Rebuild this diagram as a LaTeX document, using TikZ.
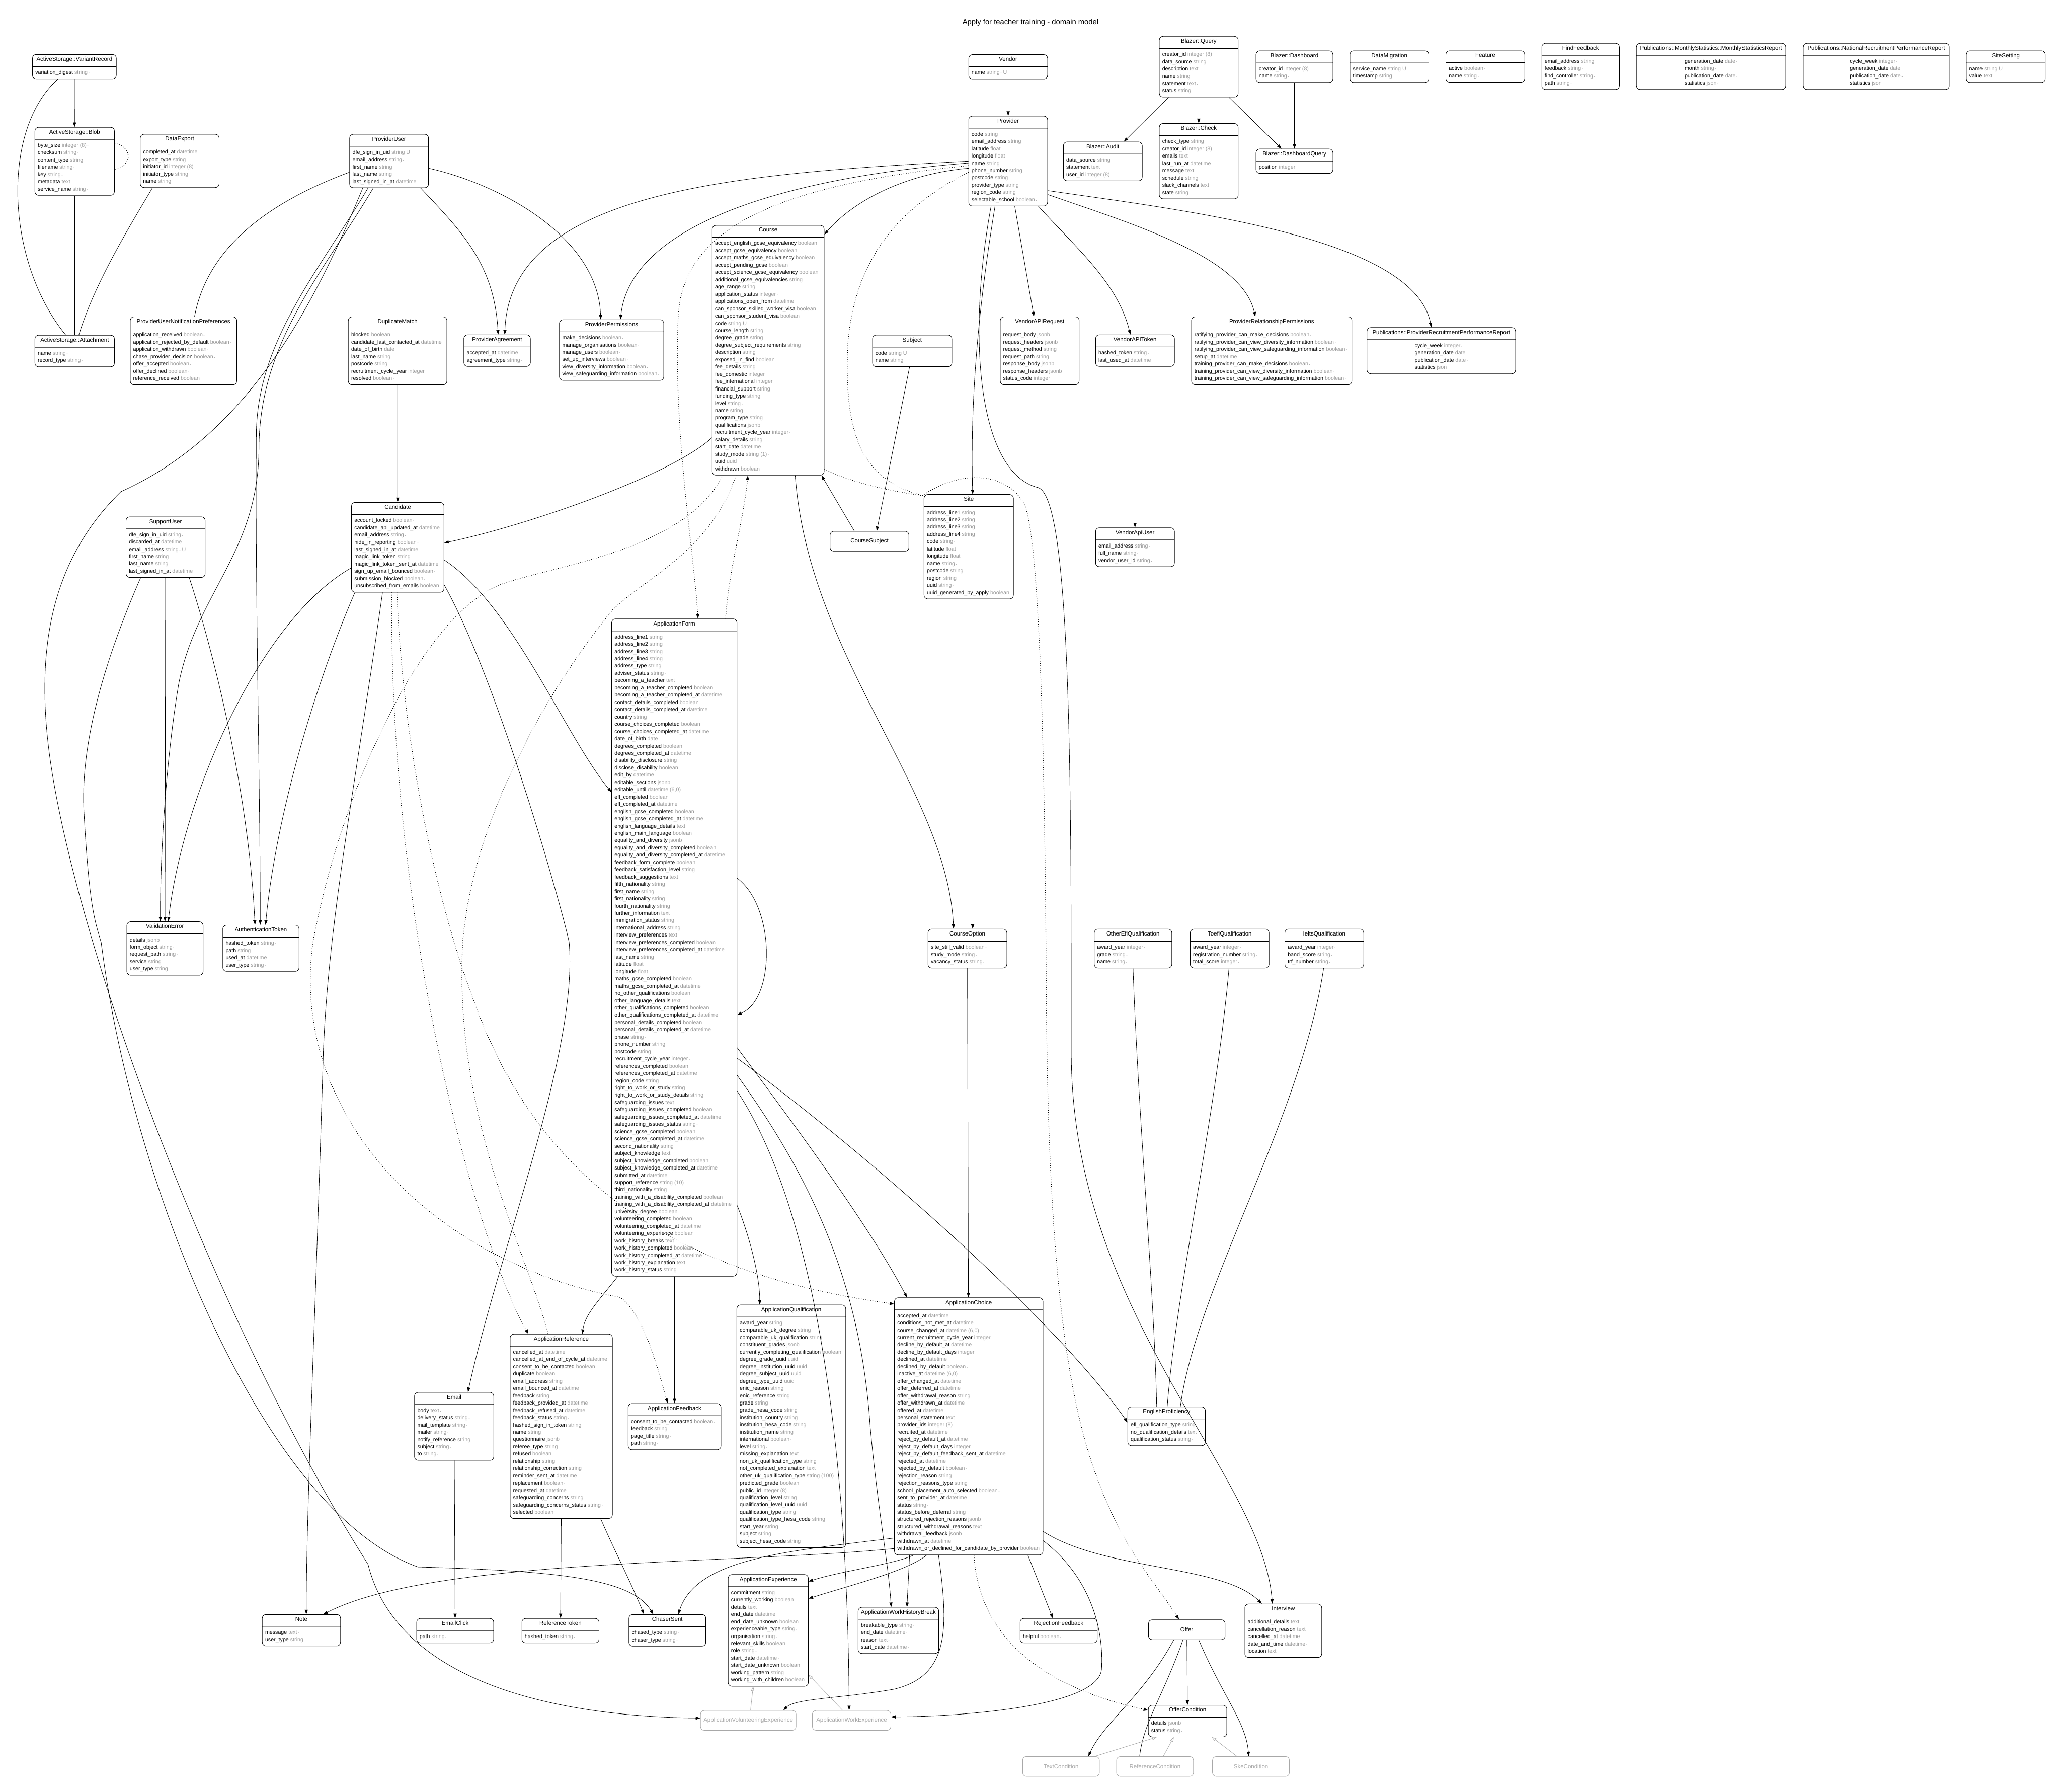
\documentclass[tikz,border=0pt]{standalone}
\usepackage{fontspec}
\setmainfont{Liberation Sans}
\usetikzlibrary{shapes.multipart,arrows.meta}
\definecolor{ErType}{HTML}{9B9B9B}
\definecolor{ErGhost}{HTML}{A8A8A8}
\renewcommand\arraystretch{0.5}
\newcommand\fld[2]{\rule[-5pt]{0pt}{17.6pt}#1 \textcolor{ErType}{#2}}
\newcommand\flds[1]{\begin{tabular}{@{}l@{}}#1\end{tabular}}
\newcommand\nn{\,{\fontsize{7}{7}\selectfont •}}
\newcommand\hd[1]{\rule[-7pt]{0pt}{16pt}{\fontsize{14}{16}\selectfont #1}}

\begin{document}
\begin{tikzpicture}[x=3.18pt, y=-3.18pt,
  entbox/.style={rectangle split, rectangle split parts=2, draw, line width=1.1pt, rounded corners=9pt, inner xsep=7pt, inner ysep=5.5pt, rectangle split part align={center,left}, font=\fontsize{13}{17.6}\selectfont, anchor=north, fill=white, minimum width=#1*3.18pt},
  entbox/.default=60,
  midattrs/.style={rectangle split part align={center,center}},
  solobox/.style={draw, line width=1.1pt, rounded corners=9pt, minimum height=48pt, font=\fontsize{14}{16}\selectfont, anchor=north, fill=white, minimum width=#1*3.18pt},
  ghostbox/.style={solobox=#1, draw=ErGhost, text=ErGhost},
  hasmany/.style={line width=1pt, -{Triangle[length=11pt,width=7.5pt]}},
  plainrel/.style={line width=1pt},
  thrmany/.style={line width=1.3pt, dash pattern=on 1.6pt off 4pt, -{Triangle[length=11pt,width=7.5pt]}},
  thrplain/.style={line width=1.3pt, dash pattern=on 1.6pt off 4pt},
  inherit/.style={line width=1pt, draw=ErGhost, -{Triangle[open,length=11pt,width=7.5pt]}}
]
\fill[white] (0,0) rectangle (1568,1363);
\useasboundingbox (0,0) rectangle (1568,1363);

\node[font=\fontsize{18}{20}\selectfont] (title) at (784,17) {Apply for teacher training - domain model};

% top row
\node[entbox=63.8] (asvariant) at (56.6,41.3) {\hd{ActiveStorage::VariantRecord}\nodepart{two}\flds{\fld{variation\_digest}{string\nn}}};
\node[entbox=60.5] (asblob) at (56.8,96.7) {\hd{ActiveStorage::Blob}\nodepart{two}\flds{\fld{byte\_size}{integer (8)\nn}\\\fld{checksum}{string\nn}\\\fld{content\_type}{string}\\\fld{filename}{string\nn}\\\fld{key}{string\nn}\\\fld{metadata}{text}\\\fld{service\_name}{string\nn}}};
\node[entbox=60.5] (asattach) at (56.8,254.8) {\hd{ActiveStorage::Attachment}\nodepart{two}\flds{\fld{name}{string\nn}\\\fld{record\_type}{string\nn}}};
\node[entbox=60] (dataexport) at (136.7,102) {\hd{DataExport}\nodepart{two}\flds{\fld{completed\_at}{datetime}\\\fld{export\_type}{string}\\\fld{initiator\_id}{integer (8)}\\\fld{initiator\_type}{string}\\\fld{name}{string}}};
\node[entbox=60] (provideruser) at (296,102) {\hd{ProviderUser}\nodepart{two}\flds{\fld{dfe\_sign\_in\_uid}{string U}\\\fld{email\_address}{string\nn}\\\fld{first\_name}{string}\\\fld{last\_name}{string}\\\fld{last\_signed\_in\_at}{datetime}}};
\node[entbox=60] (vendor) at (767,41.4) {\hd{Vendor}\nodepart{two}\flds{\fld{name}{string\nn{} U}}};
\node[entbox=60] (provider) at (767,88.2) {\hd{Provider}\nodepart{two}\flds{\fld{code}{string}\\\fld{email\_address}{string}\\\fld{latitude}{float}\\\fld{longitude}{float}\\\fld{name}{string}\\\fld{phone\_number}{string}\\\fld{postcode}{string}\\\fld{provider\_type}{string}\\\fld{region\_code}{string}\\\fld{selectable\_school}{boolean\nn}}};
\node[entbox=60] (blazerquery) at (912,27.5) {\hd{Blazer::Query}\nodepart{two}\flds{\fld{creator\_id}{integer (8)}\\\fld{data\_source}{string}\\\fld{description}{text}\\\fld{name}{string}\\\fld{statement}{text\nn}\\\fld{status}{string}}};
\node[entbox=60] (blazeraudit) at (839,107.8) {\hd{Blazer::Audit}\nodepart{two}\flds{\fld{data\_source}{string}\\\fld{statement}{text}\\\fld{user\_id}{integer (8)}}};
\node[entbox=60] (blazercheck) at (912,93.8) {\hd{Blazer::Check}\nodepart{two}\flds{\fld{check\_type}{string}\\\fld{creator\_id}{integer (8)}\\\fld{emails}{text}\\\fld{last\_run\_at}{datetime}\\\fld{message}{text}\\\fld{schedule}{string}\\\fld{slack\_channels}{text}\\\fld{state}{string}}};
\node[entbox=58.5] (blazerdashboard) at (984.8,38.5) {\hd{Blazer::Dashboard}\nodepart{two}\flds{\fld{creator\_id}{integer (8)}\\\fld{name}{string\nn}}};
\node[entbox=58.5] (blazerdq) at (984.8,113.2) {\hd{Blazer::DashboardQuery}\nodepart{two}\flds{\fld{position}{integer}}};
\node[entbox=60] (datamigration) at (1057,38.5) {\hd{DataMigration}\nodepart{two}\flds{\fld{service\_name}{string U}\\\fld{timestamp}{string}}};
\node[entbox=60] (feature) at (1130,38.5) {\hd{Feature}\nodepart{two}\flds{\fld{active}{boolean\nn}\\\fld{name}{string\nn}}};
\node[entbox=59] (findfeedback) at (1202.5,32.8) {\hd{FindFeedback}\nodepart{two}\flds{\fld{email\_address}{string}\\\fld{feedback}{string\nn}\\\fld{find\_controller}{string\nn}\\\fld{path}{string\nn}}};
\node[entbox=113.6, midattrs] (pubmonthly) at (1301.8,32.8) {\hd{Publications::MonthlyStatistics::MonthlyStatisticsReport}\nodepart{two}\flds{\fld{generation\_date}{date\nn}\\\fld{month}{string\nn}\\\fld{publication\_date}{date\nn}\\\fld{statistics}{json\nn}}};
\node[entbox=111, midattrs] (pubnational) at (1427.5,32.8) {\hd{Publications::NationalRecruitmentPerformanceReport}\nodepart{two}\flds{\fld{cycle\_week}{integer\nn}\\\fld{generation\_date}{date}\\\fld{publication\_date}{date\nn}\\\fld{statistics}{json}}};
\node[entbox=60] (sitesetting) at (1526,38.5) {\hd{SiteSetting}\nodepart{two}\flds{\fld{name}{string U}\\\fld{value}{text}}};

% provider band
\node[entbox=81] (punp) at (139.6,240.8) {\hd{ProviderUserNotificationPreferences}\nodepart{two}\flds{\fld{application\_received}{boolean\nn}\\\fld{application\_rejected\_by\_default}{boolean\nn}\\\fld{application\_withdrawn}{boolean\nn}\\\fld{chase\_provider\_decision}{boolean\nn}\\\fld{offer\_accepted}{boolean\nn}\\\fld{offer\_declined}{boolean\nn}\\\fld{reference\_received}{boolean}}};
\node[entbox=75] (duplicatematch) at (302.5,240.8) {\hd{DuplicateMatch}\nodepart{two}\flds{\fld{blocked}{boolean}\\\fld{candidate\_last\_contacted\_at}{datetime}\\\fld{date\_of\_birth}{date}\\\fld{last\_name}{string}\\\fld{postcode}{string}\\\fld{recruitment\_cycle\_year}{integer}\\\fld{resolved}{boolean\nn}}};
\node[entbox=50.6] (provideragreement) at (378.2,254.5) {\hd{ProviderAgreement}\nodepart{two}\flds{\fld{accepted\_at}{datetime}\\\fld{agreement\_type}{string\nn}}};
\node[entbox=79.4] (providerpermissions) at (465.3,243) {\hd{ProviderPermissions}\nodepart{two}\flds{\fld{make\_decisions}{boolean\nn}\\\fld{manage\_organisations}{boolean\nn}\\\fld{manage\_users}{boolean\nn}\\\fld{set\_up\_interviews}{boolean\nn}\\\fld{view\_diversity\_information}{boolean\nn}\\\fld{view\_safeguarding\_information}{boolean\nn}}};
\node[entbox=85.2] (course) at (584.4,171.3) {\hd{Course}\nodepart{two}\flds{\fld{accept\_english\_gcse\_equivalency}{boolean}\\\fld{accept\_gcse\_equivalency}{boolean}\\\fld{accept\_maths\_gcse\_equivalency}{boolean}\\\fld{accept\_pending\_gcse}{boolean}\\\fld{accept\_science\_gcse\_equivalency}{boolean}\\\fld{additional\_gcse\_equivalencies}{string}\\\fld{age\_range}{string}\\\fld{application\_status}{integer\nn}\\\fld{applications\_open\_from}{datetime}\\\fld{can\_sponsor\_skilled\_worker\_visa}{boolean}\\\fld{can\_sponsor\_student\_visa}{boolean}\\\fld{code}{string U}\\\fld{course\_length}{string}\\\fld{degree\_grade}{string}\\\fld{degree\_subject\_requirements}{string}\\\fld{description}{string}\\\fld{exposed\_in\_find}{boolean}\\\fld{fee\_details}{string}\\\fld{fee\_domestic}{integer}\\\fld{fee\_international}{integer}\\\fld{financial\_support}{string}\\\fld{funding\_type}{string}\\\fld{level}{string\nn}\\\fld{name}{string}\\\fld{program\_type}{string}\\\fld{qualifications}{jsonb}\\\fld{recruitment\_cycle\_year}{integer\nn}\\\fld{salary\_details}{string}\\\fld{start\_date}{datetime}\\\fld{study\_mode}{string (1)\nn}\\\fld{uuid}{uuid}\\\fld{withdrawn}{boolean}}};
\node[entbox=60.4] (subject) at (694,254.7) {\hd{Subject}\nodepart{two}\flds{\fld{code}{string U}\\\fld{name}{string}}};
\node[solobox=60] (coursesubject) at (661.5,404) {CourseSubject};
\node[entbox=68] (site) at (737,376) {\hd{Site}\nodepart{two}\flds{\fld{address\_line1}{string}\\\fld{address\_line2}{string}\\\fld{address\_line3}{string}\\\fld{address\_line4}{string}\\\fld{code}{string\nn}\\\fld{latitude}{float}\\\fld{longitude}{float}\\\fld{name}{string\nn}\\\fld{postcode}{string}\\\fld{region}{string}\\\fld{uuid}{string\nn}\\\fld{uuid\_generated\_by\_apply}{boolean}}};
\node[entbox=60] (vendorapirequest) at (791,240.8) {\hd{VendorAPIRequest}\nodepart{two}\flds{\fld{request\_body}{jsonb}\\\fld{request\_headers}{jsonb}\\\fld{request\_method}{string}\\\fld{request\_path}{string}\\\fld{response\_body}{jsonb}\\\fld{response\_headers}{jsonb}\\\fld{status\_code}{integer}}};
\node[entbox=60] (vendorapitoken) at (863.5,254.5) {\hd{VendorAPIToken}\nodepart{two}\flds{\fld{hashed\_token}{string\nn}\\\fld{last\_used\_at}{datetime}}};
\node[entbox=60] (vendorapiuser) at (863.5,401.3) {\hd{VendorApiUser}\nodepart{two}\flds{\fld{email\_address}{string\nn}\\\fld{full\_name}{string\nn}\\\fld{vendor\_user\_id}{string\nn}}};
\node[entbox=122] (prp) at (967.5,240.8) {\hd{ProviderRelationshipPermissions}\nodepart{two}\flds{\fld{ratifying\_provider\_can\_make\_decisions}{boolean\nn}\\\fld{ratifying\_provider\_can\_view\_diversity\_information}{boolean\nn}\\\fld{ratifying\_provider\_can\_view\_safeguarding\_information}{boolean\nn}\\\fld{setup\_at}{datetime}\\\fld{training\_provider\_can\_make\_decisions}{boolean\nn}\\\fld{training\_provider\_can\_view\_diversity\_information}{boolean\nn}\\\fld{training\_provider\_can\_view\_safeguarding\_information}{boolean\nn}}};
\node[entbox=113, midattrs] (pubprovider) at (1096.5,249) {\hd{Publications::ProviderRecruitmentPerformanceReport}\nodepart{two}\flds{\fld{cycle\_week}{integer\nn}\\\fld{generation\_date}{date}\\\fld{publication\_date}{date\nn}\\\fld{statistics}{json}}};

% users and candidate
\node[entbox=60.2] (supportuser) at (126,393) {\hd{SupportUser}\nodepart{two}\flds{\fld{dfe\_sign\_in\_uid}{string\nn}\\\fld{discarded\_at}{datetime}\\\fld{email\_address}{string\nn{} U}\\\fld{first\_name}{string}\\\fld{last\_name}{string}\\\fld{last\_signed\_in\_at}{datetime}}};
\node[entbox=70.4] (candidate) at (302.6,382) {\hd{Candidate}\nodepart{two}\flds{\fld{account\_locked}{boolean\nn}\\\fld{candidate\_api\_updated\_at}{datetime}\\\fld{email\_address}{string\nn}\\\fld{hide\_in\_reporting}{boolean\nn}\\\fld{last\_signed\_in\_at}{datetime}\\\fld{magic\_link\_token}{string}\\\fld{magic\_link\_token\_sent\_at}{datetime}\\\fld{sign\_up\_email\_bounced}{boolean\nn}\\\fld{submission\_blocked}{boolean\nn}\\\fld{unsubscribed\_from\_emails}{boolean}}};
\node[entbox=95.3] (applicationform) at (513,470.6) {\hd{ApplicationForm}\nodepart{two}\flds{\fld{address\_line1}{string}\\\fld{address\_line2}{string}\\\fld{address\_line3}{string}\\\fld{address\_line4}{string}\\\fld{address\_type}{string}\\\fld{adviser\_status}{string\nn}\\\fld{becoming\_a\_teacher}{text}\\\fld{becoming\_a\_teacher\_completed}{boolean}\\\fld{becoming\_a\_teacher\_completed\_at}{datetime}\\\fld{contact\_details\_completed}{boolean}\\\fld{contact\_details\_completed\_at}{datetime}\\\fld{country}{string}\\\fld{course\_choices\_completed}{boolean}\\\fld{course\_choices\_completed\_at}{datetime}\\\fld{date\_of\_birth}{date}\\\fld{degrees\_completed}{boolean}\\\fld{degrees\_completed\_at}{datetime}\\\fld{disability\_disclosure}{string}\\\fld{disclose\_disability}{boolean}\\\fld{edit\_by}{datetime}\\\fld{editable\_sections}{jsonb}\\\fld{editable\_until}{datetime (6,0)}\\\fld{efl\_completed}{boolean}\\\fld{efl\_completed\_at}{datetime}\\\fld{english\_gcse\_completed}{boolean}\\\fld{english\_gcse\_completed\_at}{datetime}\\\fld{english\_language\_details}{text}\\\fld{english\_main\_language}{boolean}\\\fld{equality\_and\_diversity}{jsonb}\\\fld{equality\_and\_diversity\_completed}{boolean}\\\fld{equality\_and\_diversity\_completed\_at}{datetime}\\\fld{feedback\_form\_complete}{boolean}\\\fld{feedback\_satisfaction\_level}{string}\\\fld{feedback\_suggestions}{text}\\\fld{fifth\_nationality}{string}\\\fld{first\_name}{string}\\\fld{first\_nationality}{string}\\\fld{fourth\_nationality}{string}\\\fld{further\_information}{text}\\\fld{immigration\_status}{string}\\\fld{international\_address}{string}\\\fld{interview\_preferences}{text}\\\fld{interview\_preferences\_completed}{boolean}\\\fld{interview\_preferences\_completed\_at}{datetime}\\\fld{last\_name}{string}\\\fld{latitude}{float}\\\fld{longitude}{float}\\\fld{maths\_gcse\_completed}{boolean}\\\fld{maths\_gcse\_completed\_at}{datetime}\\\fld{no\_other\_qualifications}{boolean}\\\fld{other\_language\_details}{text}\\\fld{other\_qualifications\_completed}{boolean}\\\fld{other\_qualifications\_completed\_at}{datetime}\\\fld{personal\_details\_completed}{boolean}\\\fld{personal\_details\_completed\_at}{datetime}\\\fld{phase}{string\nn}\\\fld{phone\_number}{string}\\\fld{postcode}{string}\\\fld{recruitment\_cycle\_year}{integer\nn}\\\fld{references\_completed}{boolean}\\\fld{references\_completed\_at}{datetime}\\\fld{region\_code}{string}\\\fld{right\_to\_work\_or\_study}{string}\\\fld{right\_to\_work\_or\_study\_details}{string}\\\fld{safeguarding\_issues}{text}\\\fld{safeguarding\_issues\_completed}{boolean}\\\fld{safeguarding\_issues\_completed\_at}{datetime}\\\fld{safeguarding\_issues\_status}{string\nn}\\\fld{science\_gcse\_completed}{boolean}\\\fld{science\_gcse\_completed\_at}{datetime}\\\fld{second\_nationality}{string}\\\fld{subject\_knowledge}{text}\\\fld{subject\_knowledge\_completed}{boolean}\\\fld{subject\_knowledge\_completed\_at}{datetime}\\\fld{submitted\_at}{datetime}\\\fld{support\_reference}{string (10)}\\\fld{third\_nationality}{string}\\\fld{training\_with\_a\_disability\_completed}{boolean}\\\fld{training\_with\_a\_disability\_completed\_at}{datetime}\\\fld{university\_degree}{boolean}\\\fld{volunteering\_completed}{boolean}\\\fld{volunteering\_completed\_at}{datetime}\\\fld{volunteering\_experience}{boolean}\\\fld{work\_history\_breaks}{text}\\\fld{work\_history\_completed}{boolean}\\\fld{work\_history\_completed\_at}{datetime}\\\fld{work\_history\_explanation}{text}\\\fld{work\_history\_status}{string}}};
\node[entbox=58] (validationerror) at (125.5,701) {\hd{ValidationError}\nodepart{two}\flds{\fld{details}{jsonb}\\\fld{form\_object}{string\nn}\\\fld{request\_path}{string\nn}\\\fld{service}{string}\\\fld{user\_type}{string}}};
\node[entbox=58] (authtoken) at (198.5,703.6) {\hd{AuthenticationToken}\nodepart{two}\flds{\fld{hashed\_token}{string\nn}\\\fld{path}{string}\\\fld{used\_at}{datetime}\\\fld{user\_type}{string\nn}}};
\node[entbox=60] (courseoption) at (736,706.6) {\hd{CourseOption}\nodepart{two}\flds{\fld{site\_still\_valid}{boolean\nn}\\\fld{study\_mode}{string\nn}\\\fld{vacancy\_status}{string\nn}}};
\node[entbox=59] (otherefl) at (862,706.6) {\hd{OtherEflQualification}\nodepart{two}\flds{\fld{award\_year}{integer\nn}\\\fld{grade}{string\nn}\\\fld{name}{string\nn}}};
\node[entbox=60] (toefl) at (935.5,706.6) {\hd{ToeflQualification}\nodepart{two}\flds{\fld{award\_year}{integer\nn}\\\fld{registration\_number}{string\nn}\\\fld{total\_score}{integer\nn}}};
\node[entbox=60] (ielts) at (1007.5,706.6) {\hd{IeltsQualification}\nodepart{two}\flds{\fld{award\_year}{integer\nn}\\\fld{band\_score}{string\nn}\\\fld{trf\_number}{string\nn}}};
\node[entbox=59] (englishprof) at (887.5,1070) {\hd{EnglishProficiency}\nodepart{two}\flds{\fld{efl\_qualification\_type}{string}\\\fld{no\_qualification\_details}{text}\\\fld{qualification\_status}{string\nn}}};

% application children
\node[entbox=60.3] (email) at (345.5,1059) {\hd{Email}\nodepart{two}\flds{\fld{body}{text\nn}\\\fld{delivery\_status}{string\nn}\\\fld{mail\_template}{string\nn}\\\fld{mailer}{string\nn}\\\fld{notify\_reference}{string}\\\fld{subject}{string\nn}\\\fld{to}{string\nn}}};
\node[entbox=77.8] (appreference) at (427,1014.7) {\hd{ApplicationReference}\nodepart{two}\flds{\fld{cancelled\_at}{datetime}\\\fld{cancelled\_at\_end\_of\_cycle\_at}{datetime}\\\fld{consent\_to\_be\_contacted}{boolean}\\\fld{duplicate}{boolean}\\\fld{email\_address}{string}\\\fld{email\_bounced\_at}{datetime}\\\fld{feedback}{string}\\\fld{feedback\_provided\_at}{datetime}\\\fld{feedback\_refused\_at}{datetime}\\\fld{feedback\_status}{string\nn}\\\fld{hashed\_sign\_in\_token}{string}\\\fld{name}{string}\\\fld{questionnaire}{jsonb}\\\fld{referee\_type}{string}\\\fld{refused}{boolean}\\\fld{relationship}{string}\\\fld{relationship\_correction}{string}\\\fld{reminder\_sent\_at}{datetime}\\\fld{replacement}{boolean\nn}\\\fld{requested\_at}{datetime}\\\fld{safeguarding\_concerns}{string}\\\fld{safeguarding\_concerns\_status}{string\nn}\\\fld{selected}{boolean}}};
\node[entbox=70.6] (appfeedback) at (513.2,1067.5) {\hd{ApplicationFeedback}\nodepart{two}\flds{\fld{consent\_to\_be\_contacted}{boolean\nn}\\\fld{feedback}{string}\\\fld{page\_title}{string\nn}\\\fld{path}{string\nn}}};
\node[entbox=82.8] (appqualification) at (602,992.5) {\hd{ApplicationQualification}\nodepart{two}\flds{\fld{award\_year}{string}\\\fld{comparable\_uk\_degree}{string}\\\fld{comparable\_uk\_qualification}{string}\\\fld{constituent\_grades}{jsonb}\\\fld{currently\_completing\_qualification}{boolean}\\\fld{degree\_grade\_uuid}{uuid}\\\fld{degree\_institution\_uuid}{uuid}\\\fld{degree\_subject\_uuid}{uuid}\\\fld{degree\_type\_uuid}{uuid}\\\fld{enic\_reason}{string}\\\fld{enic\_reference}{string}\\\fld{grade}{string}\\\fld{grade\_hesa\_code}{string}\\\fld{institution\_country}{string}\\\fld{institution\_hesa\_code}{string}\\\fld{institution\_name}{string}\\\fld{international}{boolean\nn}\\\fld{level}{string\nn}\\\fld{missing\_explanation}{text}\\\fld{non\_uk\_qualification\_type}{string}\\\fld{not\_completed\_explanation}{text}\\\fld{other\_uk\_qualification\_type}{string (100)}\\\fld{predicted\_grade}{boolean}\\\fld{public\_id}{integer (8)}\\\fld{qualification\_level}{string}\\\fld{qualification\_level\_uuid}{uuid}\\\fld{qualification\_type}{string}\\\fld{qualification\_type\_hesa\_code}{string}\\\fld{start\_year}{string}\\\fld{subject}{string}\\\fld{subject\_hesa\_code}{string}}};
\node[entbox=113] (appchoice) at (737,987) {\hd{ApplicationChoice}\nodepart{two}\flds{\fld{accepted\_at}{datetime}\\\fld{conditions\_not\_met\_at}{datetime}\\\fld{course\_changed\_at}{datetime (6,0)}\\\fld{current\_recruitment\_cycle\_year}{integer}\\\fld{decline\_by\_default\_at}{datetime}\\\fld{decline\_by\_default\_days}{integer}\\\fld{declined\_at}{datetime}\\\fld{declined\_by\_default}{boolean\nn}\\\fld{inactive\_at}{datetime (6,0)}\\\fld{offer\_changed\_at}{datetime}\\\fld{offer\_deferred\_at}{datetime}\\\fld{offer\_withdrawal\_reason}{string}\\\fld{offer\_withdrawn\_at}{datetime}\\\fld{offered\_at}{datetime}\\\fld{personal\_statement}{text}\\\fld{provider\_ids}{integer (8)}\\\fld{recruited\_at}{datetime}\\\fld{reject\_by\_default\_at}{datetime}\\\fld{reject\_by\_default\_days}{integer}\\\fld{reject\_by\_default\_feedback\_sent\_at}{datetime}\\\fld{rejected\_at}{datetime}\\\fld{rejected\_by\_default}{boolean\nn}\\\fld{rejection\_reason}{string}\\\fld{rejection\_reasons\_type}{string}\\\fld{school\_placement\_auto\_selected}{boolean\nn}\\\fld{sent\_to\_provider\_at}{datetime}\\\fld{status}{string\nn}\\\fld{status\_before\_deferral}{string}\\\fld{structured\_rejection\_reasons}{jsonb}\\\fld{structured\_withdrawal\_reasons}{text}\\\fld{withdrawal\_feedback}{jsonb}\\\fld{withdrawn\_at}{datetime}\\\fld{withdrawn\_or\_declined\_for\_candidate\_by\_provider}{boolean}}};

% bottom row
\node[entbox=59.5] (note) at (229.3,1228) {\hd{Note}\nodepart{two}\flds{\fld{message}{text\nn}\\\fld{user\_type}{string}}};
\node[entbox=58.6] (emailclick) at (346.3,1231) {\hd{EmailClick}\nodepart{two}\flds{\fld{path}{string\nn}}};
\node[entbox=58.7] (referencetoken) at (426.4,1231) {\hd{ReferenceToken}\nodepart{two}\flds{\fld{hashed\_token}{string\nn}}};
\node[entbox=58.5] (chasersent) at (507.7,1228) {\hd{ChaserSent}\nodepart{two}\flds{\fld{chased\_type}{string\nn}\\\fld{chaser\_type}{string\nn}}};
\node[entbox=61] (appexperience) at (584.5,1197.6) {\hd{ApplicationExperience}\nodepart{two}\flds{\fld{commitment}{string}\\\fld{currently\_working}{boolean}\\\fld{details}{text}\\\fld{end\_date}{datetime}\\\fld{end\_date\_unknown}{boolean}\\\fld{experienceable\_type}{string\nn}\\\fld{organisation}{string\nn}\\\fld{relevant\_skills}{boolean}\\\fld{role}{string\nn}\\\fld{start\_date}{datetime\nn}\\\fld{start\_date\_unknown}{boolean}\\\fld{working\_pattern}{string}\\\fld{working\_with\_children}{boolean}}};
\node[entbox=61] (appwhb) at (683.5,1222.5) {\hd{ApplicationWorkHistoryBreak}\nodepart{two}\flds{\fld{breakable\_type}{string\nn}\\\fld{end\_date}{datetime\nn}\\\fld{reason}{text\nn}\\\fld{start\_date}{datetime\nn}}};
\node[entbox=58.7] (rejectionfeedback) at (805.4,1231) {\hd{RejectionFeedback}\nodepart{two}\flds{\fld{helpful}{boolean\nn}}};
\node[solobox=58.3] (offer) at (902.9,1232) {Offer};
\node[entbox=58.5] (interview) at (976.3,1220) {\hd{Interview}\nodepart{two}\flds{\fld{additional\_details}{text}\\\fld{cancellation\_reason}{text}\\\fld{cancelled\_at}{datetime}\\\fld{date\_and\_time}{datetime\nn}\\\fld{location}{text}}};
\node[ghostbox=72.7] (appvolexp) at (569.3,1301) {ApplicationVolunteeringExperience};
\node[ghostbox=59.7] (appworkexp) at (647.9,1301) {ApplicationWorkExperience};
\node[entbox=59.7] (offercondition) at (903.5,1297) {\hd{OfferCondition}\nodepart{two}\flds{\fld{details}{jsonb}\\\fld{status}{string\nn}}};
\node[ghostbox=58.4] (textcondition) at (807.2,1336) {TextCondition};
\node[ghostbox=58.5] (referencecondition) at (878.7,1336) {ReferenceCondition};
\node[ghostbox=58.5] (skecondition) at (951.7,1336) {SkeCondition};

% active storage
\draw[hasmany] (asvariant) -- (asblob);
\draw[plainrel] (asvariant.south -| 44,0) .. controls (0,100) and (5,200) .. (asattach.north -| 50,0);
\draw[plainrel] (asblob) -- (asattach);
\draw[plainrel] (dataexport.south -| 116,0) .. controls (100,170) and (72,215) .. (asattach.north -| 60,0);
\draw[thrplain] (asblob.east |- 0,109) .. controls (101,112) and (101,126) .. (asblob.east |- 0,129);

% blazer
\draw[hasmany] (blazerquery.south -| 889,0) -- (blazeraudit.north -| 855,0);
\draw[hasmany] (blazerquery) -- (blazercheck);
\draw[hasmany] (blazerquery.south -| 935,0) -- (blazerdq.north -| 975,0);
\draw[hasmany] (blazerdashboard) -- (blazerdq);

% provider users
\draw[plainrel] (provideruser.west |- 0,131) .. controls (215,150) and (159,182) .. (punp.north -| 148,0);
\draw[hasmany] (provideruser.south -| 320,0) .. controls (350,175) and (376,200) .. (provideragreement.north -| 379,0);
\draw[hasmany] (provideruser.east |- 0,128) .. controls (380,140) and (455,180) .. (providerpermissions.north -| 457,0);
\draw[hasmany] (provideruser.south -| 280,0) .. controls (240,210) and (196,260) .. (195,330) .. controls (194,450) and (198,600) .. (authtoken.north -| 198,0);
\draw[hasmany] (provideruser.south -| 284,0) .. controls (244,210) and (198,260) .. (197,340) .. controls (197,420) and (150,450) .. (136,520) .. controls (126,580) and (122,650) .. (validationerror.north -| 122,0);
\draw[hasmany] (provideruser.south -| 276,0) .. controls (240,230) and (190,330) .. (92,374) .. controls (45,420) and (28,480) .. (36,560) .. controls (50,700) and (160,1000) .. (280,1190) .. controls (300,1270) and (400,1305) .. (appvolexp.west |- 0,1307);
\draw[hasmany] (supportuser) -- (validationerror);
\draw[hasmany] (supportuser.south -| 144,0) .. controls (170,520) and (190,620) .. (authtoken.north -| 194,0);
\draw[hasmany] (supportuser.south -| 107,0) .. controls (85,490) and (60,560) .. (64,620) .. controls (68,690) and (72,700) .. (77,717) .. controls (100,900) and (200,1150) .. (318,1192) .. controls (420,1195) and (480,1200) .. (chasersent.north -| 497,0);

% providers
\draw[hasmany] (vendor) -- (provider);
\draw[hasmany] (provider.west |- 0,128) .. controls (690,132) and (650,152) .. (course.east |- 0,178.4);
\draw[hasmany] (provider.west |- 0,122.6) .. controls (560,132) and (388,145) .. (provideragreement.north -| 384,0);
\draw[hasmany] (provider.west |- 0,124) .. controls (600,135) and (480,170) .. (providerpermissions.north -| 472,0);
\draw[hasmany] (provider.south -| 757,0) .. controls (745,230) and (738,300) .. (site.north -| 740,0);
\draw[hasmany] (provider.south -| 772,0) -- (vendorapirequest.north -| 786.6,0);
\draw[hasmany] (provider.south -| 790,0) .. controls (820,190) and (850,215) .. (vendorapitoken.north -| 860,0);
\draw[hasmany] (provider.east |- 0,148) .. controls (860,170) and (945,195) .. (prp.north -| 955,0);
\draw[hasmany] (provider.east |- 0,145) .. controls (900,160) and (1075,180) .. (pubprovider.north -| 1089,0);
\draw[hasmany] (provider.south -| 754,0) .. controls (735,260) and (745,360) .. (790,371) .. controls (815,380) and (815,600) .. (815,800) .. controls (815,1000) and (960,1120) .. (interview.north -| 968,0);
\draw[hasmany] (vendorapitoken) -- (vendorapiuser);
\draw[thrmany] (provider.west |- 0,126) .. controls (600,140) and (520,170) .. (516,240) .. controls (512,330) and (528,420) .. (applicationform.north -| 531,0);
\draw[thrmany] (provider.west |- 0,131) .. controls (680,160) and (650,200) .. (645,262) .. controls (642,330) and (655,365) .. (702,377) .. controls (725,360) and (765,355) .. (780,385) .. controls (792,420) and (795,600) .. (796,750) .. controls (797,950) and (810,1060) .. (835,1125) .. controls (855,1180) and (880,1205) .. (offer.north -| 897,0);
\draw[thrplain] (course.east |- 0,357) .. controls (650,368) and (680,374) .. (702,377);

% courses
\draw[hasmany] (subject.south -| 692,0) -- (coursesubject.north -| 667,0);
\draw[hasmany] (coursesubject.north -| 650,0) -- (course.south -| 625,0);
\draw[hasmany] (course.west |- 0,333) .. controls (510,362) and (400,400) .. (candidate.east |- 0,413);
\draw[hasmany] (course.south -| 605,0) .. controls (615,500) and (720,600) .. (courseoption.north -| 725.5,0);
\draw[hasmany] (site.south -| 740,0) -- (courseoption.north -| 740,0);
\draw[hasmany] (courseoption) -- (appchoice);
\draw[thrmany] (applicationform.north -| 552,0) .. controls (555,430) and (565,400) .. (course.south -| 569,0);
\draw[thrplain] (course.south -| 560,0) .. controls (540,420) and (490,440) .. (466,464) .. controls (420,520) and (360,620) .. (352,717) .. controls (345,850) and (400,950) .. (appreference.north -| 417,0);
\draw[thrmany] (course.south -| 550,0) .. controls (520,420) and (420,430) .. (380,445) .. controls (320,470) and (260,600) .. (238,717) .. controls (220,850) and (330,960) .. (472,987) .. controls (490,1000) and (500,1040) .. (appfeedback.north -| 508,0);

% candidate
\draw[hasmany] (duplicatematch) -- (candidate);
\draw[hasmany] (candidate.east |- 0,426) .. controls (390,460) and (430,560) .. (applicationform.west |- 0,602.6);
\draw[hasmany] (candidate.west |- 0,432) .. controls (200,470) and (140,600) .. (validationerror.north -| 128,0);
\draw[hasmany] (candidate.south -| 270,0) .. controls (240,520) and (210,620) .. (authtoken.north -| 202,0);
\draw[hasmany] (candidate.south -| 291,0) .. controls (270,600) and (250,700) .. (246,800) .. controls (240,1000) and (233,1150) .. (note.north -| 233,0);
\draw[hasmany] (candidate.east |- 0,445) .. controls (380,520) and (430,700) .. (433,717) .. controls (440,800) and (380,950) .. (email.north -| 356,0);
\draw[thrmany] (candidate.south -| 302,0) .. controls (306,560) and (330,680) .. (360,760) .. controls (420,930) and (560,975) .. (appchoice.west |- 0,992);
\draw[thrmany] (candidate.south -| 298,0) .. controls (296,700) and (360,940) .. (appreference.north -| 402,0);

% application form
\draw[hasmany] (applicationform.east |- 0,668) .. controls (590,690) and (590,760) .. (applicationform.east |- 0,772);
\draw[hasmany] (applicationform.east |- 0,917) .. controls (570,940) and (578,970) .. (appqualification.north -| 578,0);
\draw[hasmany] (applicationform.east |- 0,797) .. controls (600,850) and (660,930) .. (appchoice.north -| 690,0);
\draw[hasmany] (applicationform.east |- 0,805) .. controls (650,870) and (800,1000) .. (englishprof.west |- 0,1082);
\draw[hasmany] (applicationform.east |- 0,818) .. controls (620,900) and (655,980) .. (662,1085) .. controls (668,1150) and (676,1190) .. (appwhb.north -| 678,0);
\draw[hasmany] (applicationform.east |- 0,830) .. controls (620,920) and (645,1100) .. (appworkexp.north -| 646,0);
\draw[hasmany] (applicationform) -- (appfeedback);
\draw[hasmany] (applicationform.south -| 470,0) .. controls (455,990) and (445,1000) .. (appreference.north -| 443,0);

% references and emails
\draw[hasmany] (email) -- (emailclick);
\draw[hasmany] (appreference.south -| 427,0) -- (referencetoken);
\draw[hasmany] (appreference.south -| 457,0) .. controls (470,1185) and (476,1195) .. (chasersent.north -| 490,0);

% application choice
\draw[hasmany] (appchoice.west |- 0,1170) .. controls (600,1180) and (530,1185) .. (chasersent.north -| 516,0);
\draw[hasmany] (appchoice.west |- 0,1178) .. controls (560,1190) and (330,1185) .. (note.north -| 246,0);
\draw[hasmany] (appchoice.south -| 695,0) .. controls (680,1190) and (640,1195) .. (appexperience.east |- 0,1203);
\draw[hasmany] (appchoice.south -| 705,0) .. controls (690,1195) and (650,1205) .. (appexperience.east |- 0,1216);
\draw[hasmany] (appchoice.south -| 692,0) -- (appwhb.north -| 690,0);
\draw[hasmany] (appchoice.south -| 714,0) .. controls (722,1240) and (722,1275) .. (680,1285) .. controls (640,1292) and (605,1292) .. (appvolexp.north -| 596,0);
\draw[hasmany] (appchoice.east |- 0,1172) .. controls (830,1200) and (840,1240) .. (838,1270) .. controls (835,1300) and (720,1306) .. (appworkexp.east |- 0,1306);
\draw[hasmany] (appchoice.south -| 782,0) -- (rejectionfeedback.north -| 801,0);
\draw[hasmany] (appchoice.east |- 0,1165) .. controls (840,1195) and (930,1190) .. (interview.north -| 960,0);
\draw[thrmany] (appchoice.south -| 741,0) .. controls (745,1250) and (800,1285) .. (offercondition.west |- 0,1301);

% offers and qualifications
\draw[hasmany] (offer) -- (offercondition);
\draw[hasmany] (offer.south -| 893,0) .. controls (870,1290) and (840,1310) .. (textcondition.north -| 828,0);
\draw[plainrel] (offer.south -| 900,0) .. controls (885,1290) and (870,1310) .. (referencecondition.north -| 867,0);
\draw[hasmany] (offer.south -| 912,0) .. controls (930,1290) and (948,1310) .. (skecondition.north -| 950,0);
\draw[inherit] (textcondition.north -| 833,0) -- (offercondition.south -| 880,0);
\draw[inherit] (referencecondition.north -| 885,0) -- (offercondition.south -| 893,0);
\draw[inherit] (skecondition.north -| 941,0) -- (offercondition.south -| 922,0);
\draw[inherit] (appvolexp.north -| 571,0) -- (appexperience.south -| 573,0);
\draw[inherit] (appworkexp.north -| 641,0) -- (appexperience.east |- 0,1274);
\draw[plainrel] (otherefl.south -| 862,0) .. controls (866,850) and (878,980) .. (englishprof.north -| 880,0);
\draw[plainrel] (toefl.south -| 935,0) .. controls (925,850) and (895,980) .. (englishprof.north -| 888,0);
\draw[plainrel] (ielts.south -| 1007,0) .. controls (990,850) and (910,980) .. (englishprof.north -| 898,0);
\end{tikzpicture}
\end{document}
